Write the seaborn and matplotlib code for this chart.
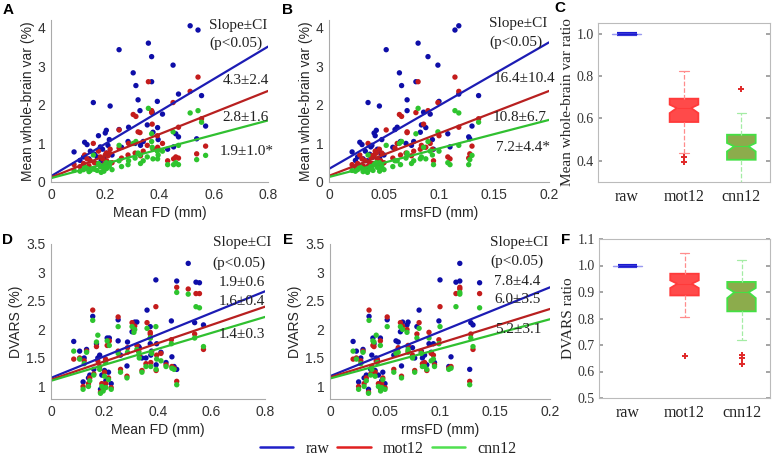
import pandas as pd
import matplotlib
matplotlib.use('Agg')
import matplotlib.pyplot as plt
import seaborn as sns
from matplotlib.lines import Line2D

# ---- per-subject motion and signal measures ----
mean_fd = [0.513, 0.542, 0.251, 0.359, 0.371, 0.450, 0.303, 0.313, 0.371, 0.156,
           0.218, 0.321, 0.392, 0.470, 0.555, 0.328, 0.373, 0.411, 0.286, 0.355,
           0.393, 0.570, 0.204, 0.200, 0.251, 0.124, 0.133, 0.085, 0.182, 0.284,
           0.376, 0.537, 0.452, 0.107, 0.470, 0.145, 0.160, 0.170, 0.190, 0.195,
           0.205, 0.215, 0.225, 0.140, 0.175, 0.260, 0.330, 0.340, 0.460, 0.430,
           0.120, 0.185, 0.210, 0.310, 0.395]
rms_fd = [0.118, 0.1145, 0.052, 0.081, 0.090, 0.099, 0.064, 0.066, 0.079, 0.0355,
          0.0458, 0.071, 0.100, 0.118, 0.136, 0.071, 0.086, 0.092, 0.062, 0.084,
          0.088, 0.130, 0.043, 0.041, 0.060, 0.028, 0.030, 0.021, 0.038, 0.065,
          0.083, 0.128, 0.110, 0.024, 0.127, 0.033, 0.037, 0.040, 0.044, 0.046,
          0.047, 0.048, 0.050, 0.031, 0.042, 0.058, 0.075, 0.077, 0.108, 0.095,
          0.026, 0.035, 0.039, 0.070, 0.094]
var_raw = [4.05, 3.94, 3.43, 3.60, 3.25, 3.03, 2.83, 2.50, 2.60, 2.06,
           1.97, 2.13, 2.09, 2.28, 2.24, 1.85, 1.81, 1.76, 1.42, 1.48,
           1.41, 1.45, 1.34, 1.27, 1.36, 1.03, 0.97, 0.78, 0.91, 1.05,
           1.29, 1.12, 0.91, 0.56, 1.17, 0.80, 0.72, 0.65, 0.85, 0.62,
           0.75, 1.10, 0.70, 0.60, 1.20, 0.90, 0.95, 1.05, 1.25, 0.85,
           0.65, 0.55, 0.95, 1.00, 1.10]
var_mot12 = [2.35, 2.72, 1.35, 2.60, 1.85, 2.06, 1.75, 1.70, 1.80, 1.00,
             0.85, 1.30, 1.20, 1.42, 1.64, 1.28, 1.50, 1.00, 1.00, 0.95,
             0.90, 0.93, 0.75, 0.70, 0.88, 0.70, 0.60, 0.45, 0.65, 0.70,
             0.85, 0.73, 0.60, 0.40, 0.62, 0.55, 0.50, 0.48, 0.60, 0.45,
             0.55, 0.75, 0.50, 0.42, 0.80, 0.62, 0.68, 0.80, 0.65, 0.55,
             0.48, 0.40, 0.68, 0.75, 0.85]
var_cnn12 = [1.79, 1.85, 0.95, 1.91, 1.05, 1.30, 1.00, 1.05, 1.25, 0.70,
             0.50, 0.75, 0.80, 0.95, 1.55, 0.70, 0.90, 0.80, 0.55, 0.65,
             0.60, 0.69, 0.50, 0.45, 0.55, 0.40, 0.35, 0.30, 0.40, 0.45,
             0.60, 0.58, 0.45, 0.28, 0.45, 0.30, 0.33, 0.30, 0.38, 0.28,
             0.35, 0.42, 0.32, 0.27, 0.48, 0.40, 0.48, 0.55, 0.50, 0.45,
             0.32, 0.25, 0.40, 0.62, 0.70]
dvars_raw = [3.16, 2.83, 2.17, 2.34, 1.75, 2.15, 1.96, 2.13, 2.05, 2.23,
             1.85, 2.13, 2.87, 2.85, 2.82, 1.70, 1.55, 1.60, 1.78, 1.50,
             1.38, 2.08, 1.45, 1.28, 1.80, 1.50, 1.65, 1.79, 1.55, 1.36,
             1.62, 2.12, 1.52, 1.62, 1.30, 1.20, 1.30, 1.75, 1.20, 1.00,
             1.10, 1.25, 1.05, 1.15, 1.50, 1.55, 1.68, 1.50, 1.35, 1.42,
             1.08, 0.95, 1.85, 2.08, 1.75]
dvars_mot12 = [2.71, 2.63, 2.22, 2.12, 1.95, 1.82, 2.12, 2.06, 1.92, 2.34,
               1.80, 1.72, 2.40, 2.74, 2.63, 1.62, 1.42, 1.58, 1.68, 1.40,
               1.28, 1.65, 1.48, 1.25, 1.62, 1.45, 1.62, 1.48, 1.35, 1.18,
               1.60, 1.92, 1.35, 1.50, 1.09, 1.15, 1.22, 1.70, 1.05, 0.95,
               1.05, 1.15, 0.98, 1.05, 1.45, 1.30, 1.55, 1.28, 1.32, 1.38,
               1.00, 0.90, 1.72, 2.00, 1.55]
dvars_cnn12 = [2.62, 2.40, 2.05, 2.02, 1.85, 1.75, 2.05, 2.00, 1.85, 2.16,
               1.72, 1.65, 2.05, 2.65, 2.38, 1.60, 1.35, 1.45, 1.60, 1.35,
               1.30, 1.70, 1.42, 1.18, 1.58, 1.40, 1.60, 1.62, 1.30, 1.15,
               1.58, 1.85, 1.32, 1.48, 1.03, 1.10, 1.20, 1.78, 1.00, 0.92,
               0.98, 1.12, 0.95, 1.00, 1.90, 1.25, 1.50, 1.25, 1.30, 1.35,
               0.95, 0.88, 1.80, 1.95, 1.48]

methods = ['raw', 'mot12', 'cnn12']

# regression fits (intercept, slope) per method, as drawn in each panel
icpt_a = [0.15, 0.12, 0.10]
slope_a = [4.2, 2.8, 1.87]
icpt_b = [0.34, 0.16, 0.13]
slope_b = [16.4, 11.0, 7.4]
icpt_d = [1.15, 1.12, 1.10]
slope_d = [1.9, 1.6, 1.4]
icpt_e = [1.18, 1.16, 1.14]
slope_e = [7.8, 6.0, 5.2]

notes_a = ['Slope\u00b1CI', '(p<0.05)', '4.3\u00b12.4', '2.8\u00b11.6', '1.9\u00b11.0*']
notes_b = ['Slope\u00b1CI', '(p<0.05)', '16.4\u00b110.4', '10.8\u00b16.7', '7.2\u00b14.4*']
notes_d = ['Slope\u00b1CI', '(p<0.05)', '1.9\u00b10.6', '1.6\u00b10.4', '1.4\u00b10.3']
notes_e = ['Slope\u00b1CI', '(p<0.05)', '7.8\u00b14.4', '6.0\u00b13.5', '5.2\u00b13.1']

# box summaries (ratio to raw)
var_q1 = [1.0, 0.583, 0.405]
var_med = [1.0, 0.649, 0.468]
var_q3 = [1.0, 0.693, 0.523]
var_lo = [1.0, 0.436, 0.25]
var_hi = [1.0, 0.822, 0.625]
var_cilo = [1.0, 0.625, 0.444]
var_cihi = [1.0, 0.665, 0.484]
var_fliers = [[], [0.42, 0.394], [0.739]]

dv_q1 = [1.0, 0.887, 0.827]
dv_med = [1.0, 0.931, 0.899]
dv_q3 = [1.0, 0.969, 0.938]
dv_lo = [1.0, 0.804, 0.72]
dv_hi = [1.0, 1.047, 1.019]
dv_cilo = [1.0, 0.915, 0.877]
dv_cihi = [1.0, 0.944, 0.915]
dv_fliers = [[], [0.66], [0.661, 0.651, 0.629]]

dot_colors = {'raw': '#0e0ea8', 'mot12': '#c41c1c', 'cnn12': '#2ec42e'}
line_colors = ['#1c1cb4', '#b82020', '#30c030']
legend_colors = ['#2020c8', '#e02020', '#50e050']

SANS = ['Liberation Sans', 'DejaVu Sans']
SERIF = ['Liberation Serif', 'DejaVu Serif']

sns.set_theme(style='white')
plt.rcParams['font.family'] = SANS
plt.rcParams['text.color'] = '#222222'

# long table of subjects x methods
frames = []
for m, v, d in zip(methods, [var_raw, var_mot12, var_cnn12], [dvars_raw, dvars_mot12, dvars_cnn12]):
    frames.append(pd.DataFrame({'fd': mean_fd, 'rms': rms_fd, 'var': v, 'dvars': d, 'method': m}))
subj = pd.concat(frames, ignore_index=True)

W, H = 774, 458
fig = plt.figure(figsize=(W / 100, H / 100), dpi=100)


def px_axes(l, t, r, b):
    return fig.add_axes([l / W, 1 - b / H, (r - l) / W, (b - t) / H])


def scatter_panel(ax, xcol, ycol, icpts, slopes, xlim, ylim, xticks, xlabels, yticks, ylabels,
                  xlabel, ylabel, notes, note_x, note_y):
    sns.scatterplot(data=subj, x=xcol, y=ycol, hue='method', hue_order=methods, palette=dot_colors,
                    s=15, linewidth=0, alpha=1, legend=False, ax=ax)
    for b, m, c in zip(icpts, slopes, line_colors):
        ax.axline((0, b), slope=m, color=c, lw=1.6)
    ax.set_xlim(xlim)
    ax.set_ylim(ylim)
    ax.set_xticks(xticks, xlabels)
    ax.set_yticks(yticks, ylabels)
    ax.set_xlabel(xlabel, fontsize=10, labelpad=3)
    ax.set_ylabel(ylabel, fontsize=10, labelpad=2)
    ax.tick_params(direction='in', length=3, width=0.8, color='#999999', labelsize=10,
                   labelcolor='#333333', pad=4)
    for s in ['top', 'right']:
        ax.spines[s].set_visible(False)
    for s in ['left', 'bottom']:
        ax.spines[s].set_color('#aaaaaa')
        ax.spines[s].set_linewidth(0.8)
    for txt, nx, ny in zip(notes, note_x, note_y):
        ax.text(nx, ny, txt, family=SERIF, fontsize=11, ha='left', va='center',
                color='#222222', clip_on=False)


def box_panel(ax, q1, med, q3, lo, hi, cilo, cihi, fliers, ylim, yticks, ylabel):
    faces = ['#1a1ad0', '#ff4a4a', '#8cac4c']
    edges = ['#1a1ad0', '#ff3a3a', '#44e044']
    whisk = ['#9a9af0', '#ff8c8c', '#a4eca4']
    for i in range(3):
        st = {'med': med[i], 'q1': q1[i], 'q3': q3[i], 'whislo': lo[i], 'whishi': hi[i],
              'cilo': cilo[i], 'cihi': cihi[i], 'fliers': fliers[i], 'label': methods[i]}
        raw = i == 0
        ax.bxp([st], positions=[i + 1], widths=0.35 if raw else 0.5, capwidths=0.5 if raw else 0.16,
               shownotches=not raw, patch_artist=True,
               boxprops=dict(facecolor=faces[i], edgecolor=edges[i], linewidth=3 if raw else 1.3),
               medianprops=dict(color=edges[i], linewidth=0.8),
               whiskerprops=dict(color=whisk[i], linestyle='--', linewidth=0.9),
               capprops=dict(color=whisk[i], linewidth=0.9),
               flierprops=dict(marker='+', markersize=4, markeredgecolor='#e02828', markeredgewidth=1.4))
    ax.set_xlim(0.5, 3.5)
    ax.set_ylim(ylim)
    ax.set_xticks([1, 2, 3], methods)
    ax.set_yticks(yticks, ['%.1f' % t for t in yticks])
    for lab in ax.get_xticklabels():
        lab.set_family(SERIF)
        lab.set_fontsize(11.5)
    for lab in ax.get_yticklabels():
        lab.set_family(SERIF)
        lab.set_fontsize(10)
    ax.set_ylabel(ylabel, family=SERIF, fontsize=11, labelpad=2)
    ax.tick_params(axis='y', direction='in', length=3, color='#999999', left=True, right=True,
                   labelcolor='#333333', pad=3)
    ax.tick_params(axis='x', length=0, labelcolor='#222222', pad=5)
    for s in ax.spines.values():
        s.set_color('#bbbbbb')
        s.set_linewidth(0.8)


ax_a = px_axes(51, 20, 268, 182)
scatter_panel(ax_a, 'fd', 'var', icpt_a, slope_a, (0, 0.8), (0, 4.2),
              [0, 0.2, 0.4, 0.6, 0.8], ['0', '0.2', '0.4', '0.6', '0.8'],
              [0, 1, 2, 3, 4], ['0', '1', '2', '3', '4'],
              'Mean FD (mm)', 'Mean whole-brain var (%)',
              notes_a, [0.582, 0.585, 0.633, 0.633, 0.62], [4.05, 3.59, 2.63, 1.68, 0.80])

ax_b = px_axes(329, 20, 549, 182)
scatter_panel(ax_b, 'rms', 'var', icpt_b, slope_b, (0, 0.2), (0, 4.2),
              [0, 0.05, 0.1, 0.15, 0.2], ['0', '0.05', '0.1', '0.15', '0.2'],
              [0, 1, 2, 3, 4], ['0', '1', '2', '3', '4'],
              'rmsFD (mm)', 'Mean whole-brain var (%)',
              notes_b, [0.145, 0.146, 0.150, 0.149, 0.152], [4.10, 3.61, 2.68, 1.68, 0.90])

ax_d = px_axes(51, 244, 265, 399)
scatter_panel(ax_d, 'fd', 'dvars', icpt_d, slope_d, (0, 0.8), (0.78, 3.5),
              [0, 0.2, 0.4, 0.6, 0.8], ['0', '0.2', '0.4', '0.6', '0.8'],
              [1, 1.5, 2, 2.5, 3, 3.5], ['1', '1.5', '2', '2.5', '3', '3.5'],
              'Mean FD (mm)', 'DVARS (%)',
              notes_d, [0.605, 0.605, 0.625, 0.625, 0.625], [3.52, 3.17, 2.82, 2.49, 1.91])

ax_e = px_axes(330, 244, 550, 399)
scatter_panel(ax_e, 'rms', 'dvars', icpt_e, slope_e, (0, 0.2), (0.78, 3.5),
              [0, 0.05, 0.1, 0.15, 0.2], ['0', '0.05', '0.1', '0.15', '0.2'],
              [1, 1.5, 2, 2.5, 3, 3.5], ['1', '1.5', '2', '2.5', '3', '3.5'],
              'rmsFD (mm)', 'DVARS (%)',
              notes_e, [0.1455, 0.1455, 0.149, 0.149, 0.150], [3.52, 3.19, 2.84, 2.52, 2.0])

ax_c = px_axes(598, 23, 770, 182)
box_panel(ax_c, var_q1, var_med, var_q3, var_lo, var_hi, var_cilo, var_cihi, var_fliers,
          (0.3, 1.05), [0.4, 0.6, 0.8, 1.0], 'Mean whole-brain var ratio')

ax_f = px_axes(599, 239, 770, 398)
box_panel(ax_f, dv_q1, dv_med, dv_q3, dv_lo, dv_hi, dv_cilo, dv_cihi, dv_fliers,
          (0.5, 1.1), [0.5, 0.6, 0.7, 0.8, 0.9, 1.0, 1.1], 'DVARS ratio')

# panel letters
for letter, lx, ly in [('A', 3, 3), ('B', 282, 3), ('C', 554, 1), ('D', 2, 233), ('E', 283, 233), ('F', 561, 233)]:
    fig.text(lx / W, 1 - ly / H, letter, fontsize=11, fontweight='bold', ha='left', va='top', color='black')

handles = [Line2D([], [], color=c, lw=1.8) for c in legend_colors]
fig.legend(handles, methods, loc='center', bbox_to_anchor=(388 / W, 1 - 449 / H), ncol=3, frameon=False,
           prop={'family': SERIF, 'size': 11.5}, handlelength=2.1, handletextpad=0.75,
           columnspacing=0.5, borderpad=0)

fig.savefig('out.png', dpi=100, facecolor='white')
